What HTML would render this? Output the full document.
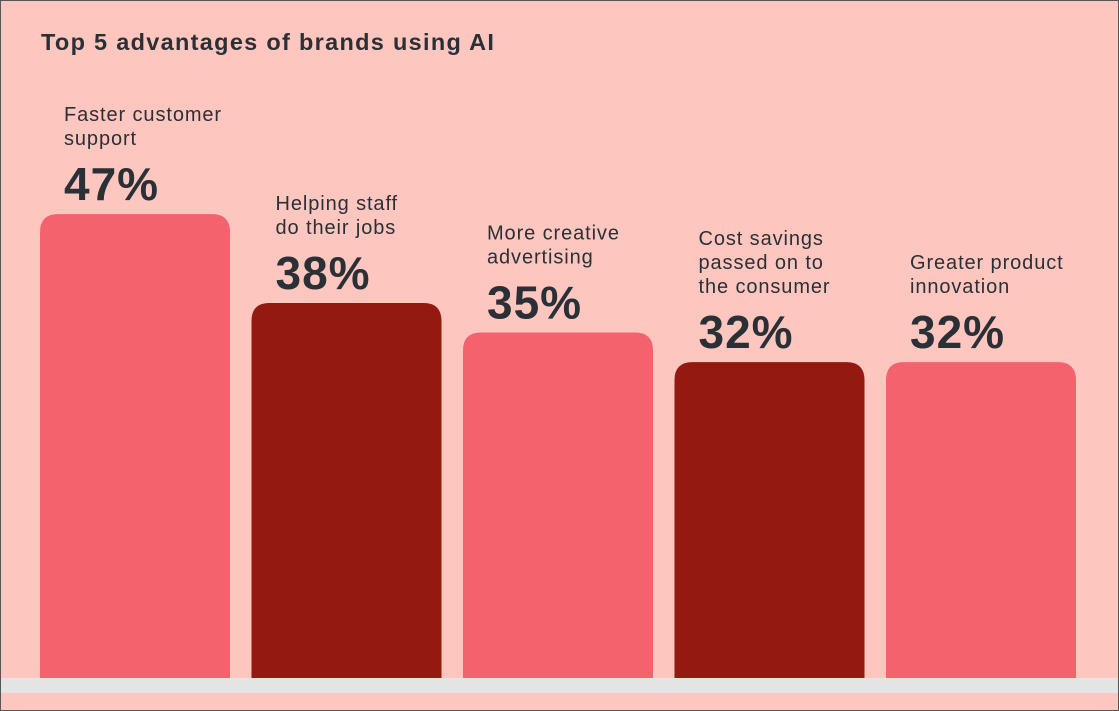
<!DOCTYPE html>
<html><head><meta charset="utf-8"><style>
body{margin:0;width:1119px;height:711px;overflow:hidden;background:#fdc7c0;font-family:"Liberation Sans",sans-serif}
#frame{position:absolute;left:0;top:0;width:1117px;height:709px;border:1px solid #555;}
</style></head><body>
<div id="frame"></div>
<svg id="chart" width="1119" height="711" style="position:absolute;left:0;top:0">
<text x="41" y="50" font-size="23.5" letter-spacing="1.3" font-weight="bold" fill="#2b2f36">Top 5 advantages of brands using AI</text>
<rect x="1" y="678" width="1117" height="15" fill="#e4e4e4"/>
</svg>
<script>
const categories=[["Faster customer","support"],["Helping staff","do their jobs"],["More creative","advertising"],["Cost savings","passed on to","the consumer"],["Greater product","innovation"]];
const values=[47,38,35,32,32];
const valueLabels=["47%","38%","35%","32%","32%"];
const colors=["#f4626e","#941911","#f4626e","#941911","#f4626e"];
const svg=document.getElementById('chart');
const NS='http://www.w3.org/2000/svg';
const y0=678,pxPer=9.87;
const yScale=v=>y0-v*pxPer;
const xScale=i=>40+i*211.5;
const bw=190,r=18;
values.forEach((v,i)=>{
  const x=xScale(i),top=yScale(v);
  const p=document.createElementNS(NS,'path');
  p.setAttribute('d',`M${x},${y0}V${top+r}Q${x},${top} ${x+r},${top}H${x+bw-r}Q${x+bw},${top} ${x+bw},${top+r}V${y0}Z`);
  p.setAttribute('fill',colors[i]);
  
  
  svg.appendChild(p);
  const t=document.createElementNS(NS,'text');
  t.setAttribute('x',x+24);t.setAttribute('y',top-14);
  t.setAttribute('font-size','46');t.setAttribute('font-weight','bold');t.setAttribute('fill','#2b2f36');
  t.setAttribute('letter-spacing','1');
  t.textContent=valueLabels[i];
  
  
  svg.appendChild(t);
  const lines=categories[i];
  lines.forEach((ln,j)=>{
    const c=document.createElementNS(NS,'text');
    c.setAttribute('x',x+24);c.setAttribute('y',top-69-(lines.length-1-j)*24);
    c.setAttribute('font-size','20');c.setAttribute('fill','#2b2f36');
    c.setAttribute('letter-spacing','0.9');
    c.textContent=ln;
    
    
    svg.appendChild(c);
  });
});
</script>
</body></html>
